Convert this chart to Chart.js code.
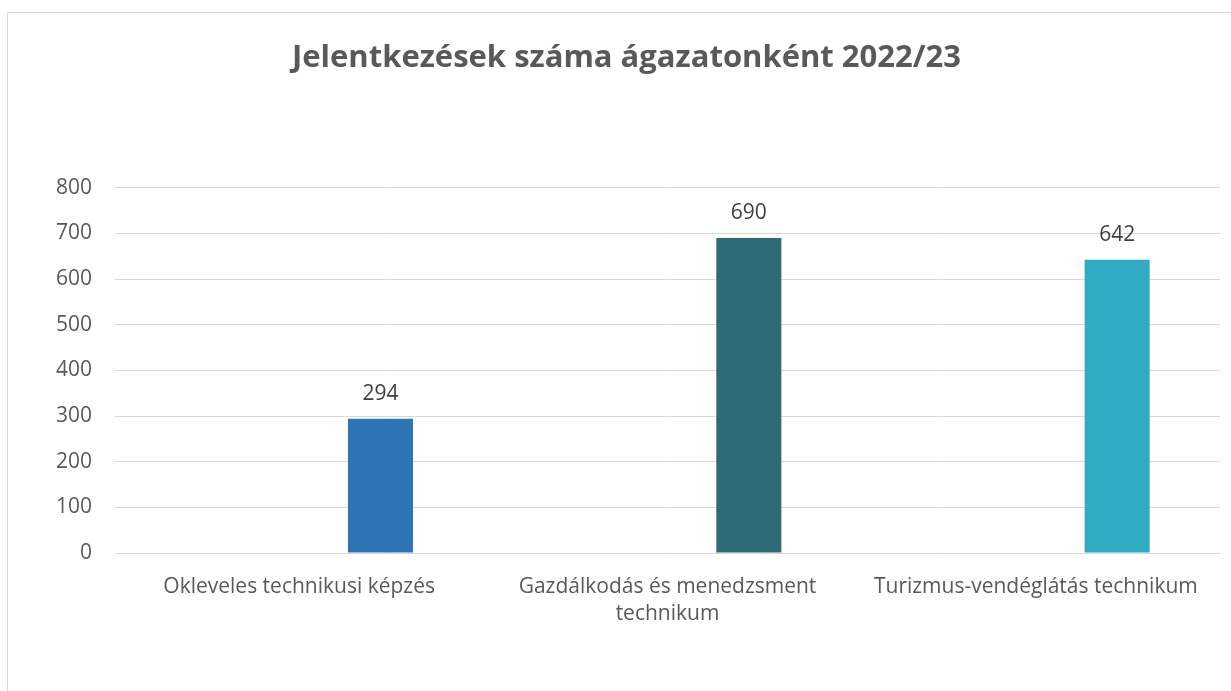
<!DOCTYPE html>
<html lang="hu">
<head>
    <meta charset="UTF-8">
    <title>Jelentkezések száma ágazatonként 2022/23</title>
    <script src="https://cdn.jsdelivr.net/npm/chart.js"></script>
    <style>
        html, body { margin: 0; padding: 0; background: #fff; overflow: hidden; }
        #frame { position: absolute; left: 7px; top: 12px; width: 1240px; height: 700px; border: 1px solid #d9d9d9; }
        #chart { position: absolute; left: 0; top: 0; }
    </style>
</head>
<body>
    <div id="frame"></div>
    <canvas id="chart" width="1220" height="691"></canvas>
    <script>
        // adatok
        const categories = [
            "Okleveles technikusi képzés",
            ["Gazdálkodás és menedzsment", "technikum"],
            "Turizmus-vendéglátás technikum"
        ];
        const emptySeries = [null, null, null]; // üres sorozat (Excel-ben is volt egy üres oszlop)
        const applications = [294, 690, 642];
        const barColors = ["#2e75b6", "#2e6b77", "#31abc2"];
        const yTicks = [0, 100, 200, 300, 400, 500, 600, 700, 800];

        const font = "'Open Sans', 'Noto Sans', sans-serif";

        // értékcímkék a hasábok fölé
        const valueLabels = {
            id: "valueLabels",
            afterDatasetsDraw(chart) {
                const ctx = chart.ctx;
                const meta = chart.getDatasetMeta(1);
                ctx.save();
                ctx.font = "21px " + font;
                ctx.fillStyle = "#404040";
                ctx.textAlign = "center";
                ctx.textBaseline = "middle";
                meta.data.forEach((bar, i) => {
                    ctx.fillText(applications[i], bar.x, bar.y - 25);
                });
                ctx.restore();
            }
        };

        new Chart(document.getElementById("chart"), {
            type: "bar",
            data: {
                labels: categories,
                datasets: [
                    { label: "", data: emptySeries },
                    { label: "Jelentkezések", data: applications, backgroundColor: barColors }
                ]
            },
            options: {
                responsive: false,
                animation: false,
                categoryPercentage: 0.883,
                barPercentage: 0.4,
                layout: { padding: { left: 33, right: 0, top: 0, bottom: 38 } },
                plugins: {
                    legend: { display: false },
                    tooltip: { enabled: false },
                    title: {
                        display: true,
                        text: "Jelentkezések száma ágazatonként 2022/23",
                        color: "#595959",
                        font: { family: font, size: 31, weight: "bold", lineHeight: 1.2 },
                        padding: { top: 40, bottom: 110.5 }
                    }
                },
                scales: {
                    x: {
                        grid: { display: false },
                        border: { display: false },
                        ticks: {
                            color: "#595959",
                            font: { family: font, size: 21, lineHeight: 1.29 },
                            padding: 12,
                            maxRotation: 0,
                            autoSkip: false
                        },
                        afterFit(scale) { scale.height = 100; }
                    },
                    y: {
                        min: 0,
                        max: 800,
                        afterBuildTicks(scale) { scale.ticks = yTicks.map(v => ({ value: v })); },
                        grid: { color: "#d9d9d9", lineWidth: 1, drawTicks: false },
                        border: { display: false },
                        ticks: {
                            color: "#595959",
                            font: { family: font, size: 21 },
                            padding: 23
                        },
                        afterFit(scale) { scale.width = 82; }
                    }
                }
            },
            plugins: [valueLabels]
        });
    </script>
</body>
</html>
